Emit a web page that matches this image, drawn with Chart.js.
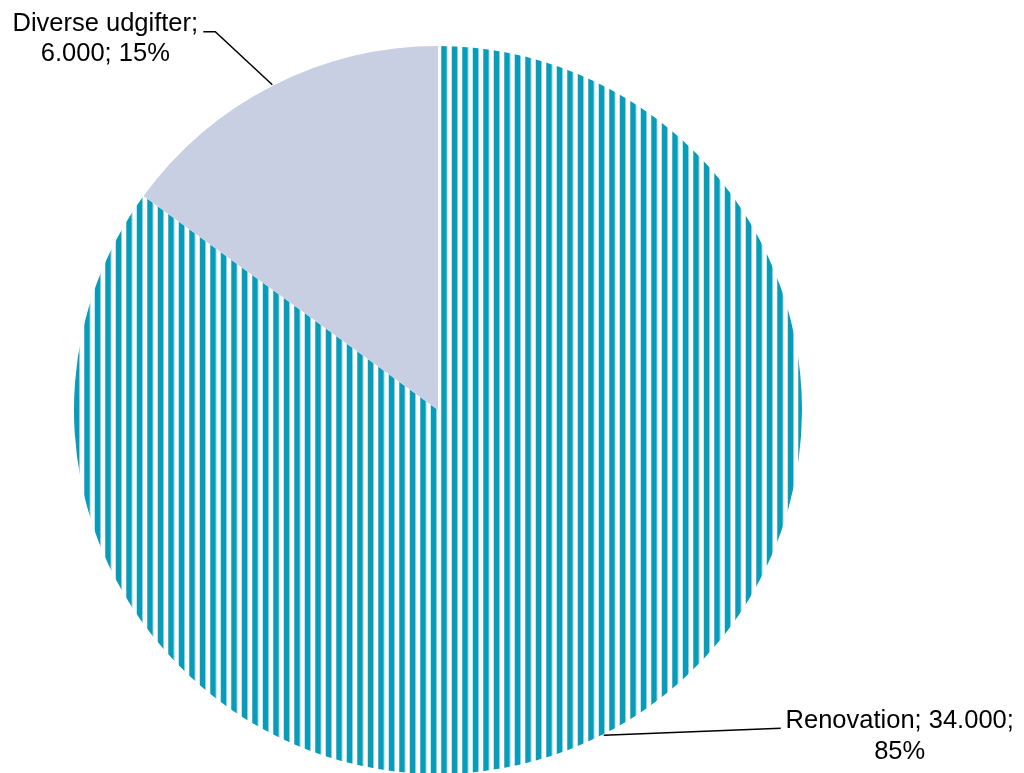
<!DOCTYPE html>
<html>
<head>
<meta charset="utf-8">
<script src="https://cdn.jsdelivr.net/npm/chart.js@4"></script>
<style>
  html, body { margin: 0; padding: 0; background: #fff; }
  #wrap { width: 1024px; height: 773px; position: relative; }
</style>
</head>
<body>
<div id="wrap"><canvas id="pie_chart"></canvas></div>
<script>
var labels = ["Renovation", "Diverse udgifter"];
var values = [34000, 6000];
var percents = [85, 15];

// vertical stripe fill for the big slice
var stripe_pattern = () => {
    var c = document.createElement("canvas");
    c.width = 21;
    c.height = 4;
    var ctx = c.getContext("2d");
    ctx.fillStyle = "#ffffff";
    ctx.fillRect(0, 0, 21, 4);
    ctx.fillStyle = "#8fd0df";
    ctx.fillRect(0, 0, 6.5, 4);
    ctx.fillRect(10.5, 0, 6.5, 4);
    ctx.fillStyle = "#069cba";
    ctx.fillRect(0.5, 0, 5, 4);
    ctx.fillRect(11, 0, 5, 4);
    return ctx.createPattern(c, "repeat");
};

var fmt_num = (v) => (v / 1000).toFixed(3);

// label layout: leader bend relative to slice edge, text anchor relative to bend
var label_layout = [
    { lines: (i) => [labels[i] + "; " + fmt_num(values[i]) + ";", percents[i] + "%"], bend: [177, -7], text: [119, -7], elbow: null },
    { lines: (i) => [labels[i] + ";", fmt_num(values[i]) + "; " + percents[i] + "%"], bend: [-57, -53], text: [-110, -8], elbow: -12 }
];

var leader_plugin = {
    id: "leaders",
    afterDatasetsDraw: (chart) => {
        var ctx = chart.ctx;
        var meta = chart.getDatasetMeta(0);
        ctx.save();
        meta.data.forEach((arc, i) => {
            var mid = (arc.startAngle + arc.endAngle) / 2;
            var r = arc.outerRadius + 1;
            var ex = arc.x + Math.cos(mid) * r;
            var ey = arc.y + Math.sin(mid) * r;
            var lay = label_layout[i];
            var bx = ex + lay.bend[0];
            var by = ey + lay.bend[1];
            ctx.strokeStyle = "#000";
            ctx.lineWidth = 1.5;
            ctx.beginPath();
            ctx.moveTo(ex, ey);
            ctx.lineTo(bx, by);
            if (lay.elbow != null) ctx.lineTo(bx + lay.elbow, by);
            ctx.stroke();
            ctx.fillStyle = "#000";
            ctx.font = "25.5px 'Liberation Sans', Arial, sans-serif";
            ctx.textAlign = "center";
            ctx.textBaseline = "middle";
            var tx = bx + lay.text[0];
            var ty = by + lay.text[1];
            lay.lines(i).forEach((t, k) => {
                ctx.fillText(t, tx, ty + k * 30.5);
            });
        });
        ctx.restore();
    }
};

var create_chart = () => {
    var canva = document.getElementById("pie_chart");
    var config = {
        type: "pie",
        data: {
            labels: [...labels],
            datasets: [{
                data: [...values],
                backgroundColor: [stripe_pattern(), "#c8cfe2"],
                borderWidth: 0
            }]
        },
        options: {
            responsive: true,
            maintainAspectRatio: false,
            animation: false,
            radius: 364,
            layout: { padding: { left: 74, right: 222, top: 47, bottom: 0 } },
            plugins: {
                legend: { display: false },
                tooltip: { enabled: false }
            }
        },
        plugins: [leader_plugin]
    };
    new Chart(canva, config);
};

create_chart();
</script>
</body>
</html>
